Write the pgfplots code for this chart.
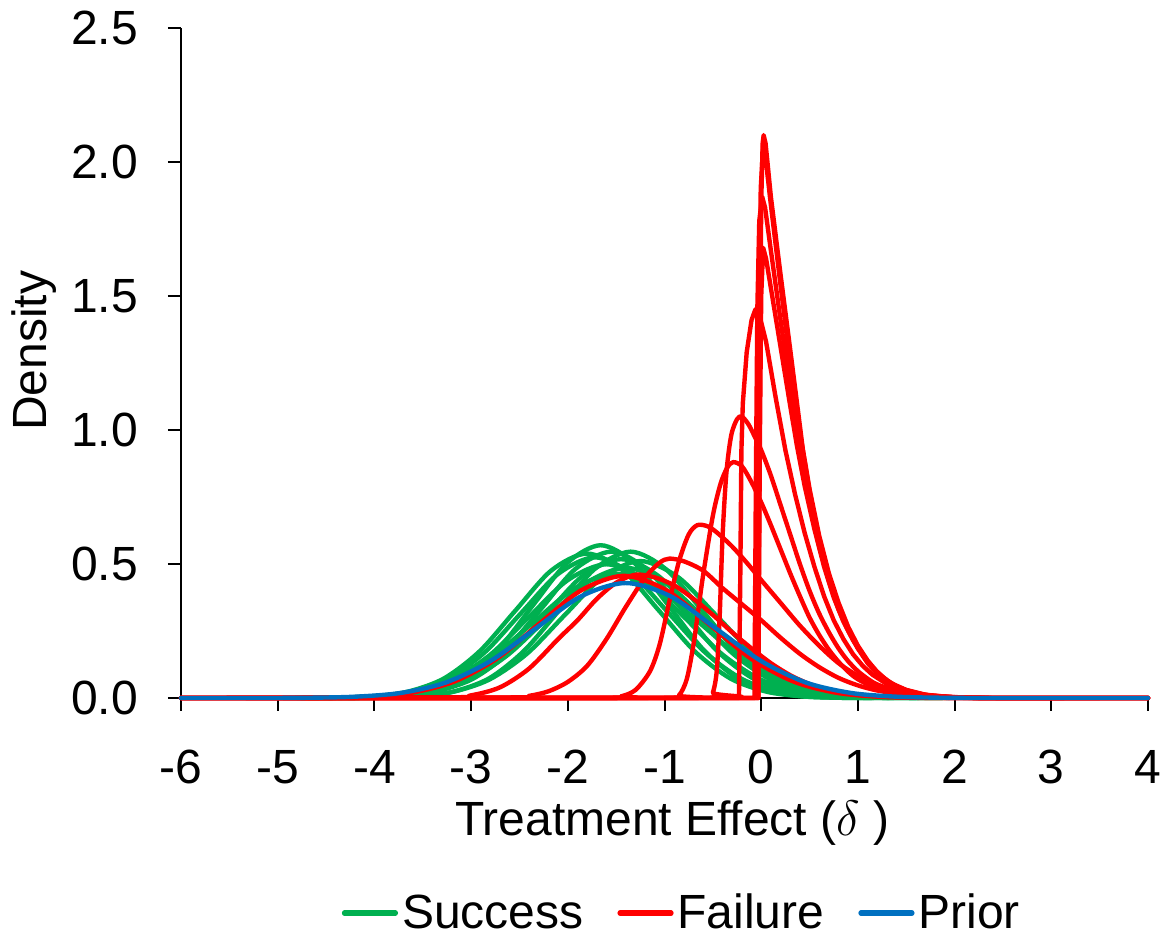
\documentclass[border=0pt]{standalone}
\usepackage{fontspec}
\setmainfont{Liberation Sans}
\usepackage{pgfplots}
\pgfplotsset{compat=1.18}
\definecolor{sgreen}{RGB}{0,176,80}
\definecolor{fred}{RGB}{255,0,0}
\definecolor{pblue}{RGB}{0,112,192}
\newcommand\fsz{\fontsize{24}{28}\selectfont}
\begin{document}
\begin{tikzpicture}
\begin{axis}[
  scale only axis, width=483.5pt, height=335pt,
  xmin=-6, xmax=4, ymin=0, ymax=2.5,
  axis x line*=bottom, axis y line*=left,
  axis line style={line width=1.2pt, black},
  xtick={-6,-5,-4,-3,-2,-1,0,1,2,3,4},
  xticklabels={-6,-5,-4,-3,-2,-1,0,1,2,3,4},
  ytick={0,0.5,1,1.5,2,2.5},
  yticklabels={0.0,0.5,1.0,1.5,2.0,2.5},
  tick align=outside, major tick length=6.5pt,
  tick style={line width=1pt, black},
  tick label style={font=\fsz},
  yticklabel style={xshift=-11.5pt},
  xticklabel style={yshift=-16pt},
  xlabel={Treatment Effect ($\delta$ )}, ylabel={Density},
  label style={font=\fsz},
  xlabel style={at={(axis description cs:0.508,-0.187)}, anchor=center},
  ylabel style={at={(axis description cs:-0.152,0.518)}, anchor=center},
  clip=false,
  legend style={draw=none, fill=none, font=\fsz, legend columns=3,
    at={(0.519,-0.321)}, anchor=center,
    /tikz/every even column/.append style={column sep=15pt}},
  legend image code/.code={\draw[#1] (0pt,0pt) -- (25.5pt,0pt);},
  every axis plot/.append style={line width=2.2pt, line cap=round, line join=round},
]
\addlegendimage{sgreen, line width=2.6pt}\addlegendentry{Success}
\addlegendimage{fred, line width=2.6pt}\addlegendentry{Failure}
\addlegendimage{pblue, line width=2.6pt}\addlegendentry{Prior}

% ---------------- Success (green) ----------------
\addplot[sgreen, smooth, forget plot] coordinates {(-4.46,0.000)(-4.11,0.001)(-3.76,0.006)(-3.41,0.025)(-3.06,0.077)(-2.71,0.185)(-2.36,0.346)(-2.01,0.503)(-1.66,0.570)(-1.31,0.503)(-0.96,0.346)(-0.61,0.185)(-0.26,0.077)(0.09,0.025)(0.44,0.006)(0.79,0.001)(1.14,0.000)};
\addplot[sgreen, smooth, forget plot] coordinates {(-4.76,0.000)(-4.39,0.001)(-4.02,0.006)(-3.65,0.024)(-3.28,0.073)(-2.91,0.175)(-2.54,0.327)(-2.17,0.476)(-1.80,0.539)(-1.43,0.476)(-1.06,0.327)(-0.69,0.175)(-0.32,0.073)(0.05,0.024)(0.42,0.006)(0.79,0.001)(1.16,0.000)};
\addplot[sgreen, smooth, forget plot] coordinates {(-4.76,0.000)(-4.38,0.001)(-4.00,0.006)(-3.62,0.023)(-3.24,0.071)(-2.86,0.170)(-2.48,0.318)(-2.10,0.463)(-1.72,0.525)(-1.34,0.463)(-0.96,0.318)(-0.58,0.170)(-0.20,0.071)(0.18,0.023)(0.56,0.006)(0.94,0.001)(1.32,0.000)};
\addplot[sgreen, smooth, forget plot] coordinates {(-4.47,0.000)(-4.11,0.001)(-3.74,0.006)(-3.38,0.024)(-3.01,0.074)(-2.65,0.177)(-2.28,0.331)(-1.92,0.482)(-1.55,0.546)(-1.19,0.482)(-0.82,0.331)(-0.46,0.177)(-0.09,0.074)(0.28,0.024)(0.64,0.006)(1.01,0.001)(1.37,0.000)};
\addplot[sgreen, smooth, forget plot] coordinates {(-4.27,0.000)(-3.91,0.001)(-3.54,0.006)(-3.18,0.024)(-2.81,0.074)(-2.45,0.177)(-2.08,0.331)(-1.72,0.482)(-1.35,0.546)(-0.99,0.482)(-0.62,0.331)(-0.26,0.177)(0.11,0.074)(0.48,0.024)(0.84,0.006)(1.21,0.001)(1.57,0.000)};
\addplot[sgreen, smooth, forget plot] coordinates {(-4.53,0.000)(-4.15,0.001)(-3.76,0.006)(-3.38,0.023)(-2.99,0.070)(-2.61,0.168)(-2.22,0.314)(-1.84,0.457)(-1.45,0.518)(-1.07,0.457)(-0.68,0.314)(-0.30,0.168)(0.09,0.070)(0.48,0.023)(0.86,0.006)(1.25,0.001)(1.63,0.000)};
\addplot[sgreen, smooth, forget plot] coordinates {(-4.37,0.000)(-3.98,0.001)(-3.59,0.006)(-3.20,0.022)(-2.81,0.069)(-2.42,0.166)(-2.03,0.310)(-1.64,0.451)(-1.25,0.511)(-0.86,0.451)(-0.47,0.310)(-0.08,0.166)(0.31,0.069)(0.70,0.022)(1.09,0.006)(1.48,0.001)(1.87,0.000)};
\addplot[sgreen, smooth, forget plot] coordinates {(-4.80,0.000)(-4.40,0.001)(-4.00,0.006)(-3.60,0.022)(-3.20,0.068)(-2.80,0.162)(-2.40,0.303)(-2.00,0.440)(-1.60,0.499)(-1.20,0.440)(-0.80,0.303)(-0.40,0.162)(0.00,0.068)(0.40,0.022)(0.80,0.006)(1.20,0.001)(1.60,0.000)};
\addplot[sgreen, smooth, forget plot] coordinates {(-4.68,0.000)(-4.27,0.001)(-3.86,0.005)(-3.45,0.021)(-3.04,0.066)(-2.63,0.158)(-2.22,0.295)(-1.81,0.429)(-1.40,0.486)(-0.99,0.429)(-0.58,0.295)(-0.17,0.158)(0.24,0.066)(0.65,0.021)(1.06,0.005)(1.47,0.001)(1.88,0.000)};
\addplot[sgreen, smooth, forget plot] coordinates {(-4.94,0.000)(-4.51,0.001)(-4.08,0.005)(-3.65,0.020)(-3.22,0.063)(-2.79,0.151)(-2.36,0.281)(-1.93,0.409)(-1.50,0.464)(-1.07,0.409)(-0.64,0.281)(-0.21,0.151)(0.22,0.063)(0.65,0.020)(1.08,0.005)(1.51,0.001)(1.94,0.000)};

% ---------------- Failure (red) ----------------
\addplot[fred, smooth, forget plot] coordinates {(-6,0)(-4.92,0.000)(-4.48,0.001)(-4.045,0.005)(-3.61,0.020)(-3.17,0.062)(-2.73,0.148)(-2.295,0.277)(-1.86,0.402)(-1.42,0.456)(-0.98,0.402)(-0.545,0.277)(-0.11,0.148)(0.33,0.062)(0.77,0.020)(1.205,0.005)(1.64,0.001)(2.08,0.000)(4,0)};
\addplot[fred, smooth, forget plot] coordinates {(-6,0)(-3.3,0.002)(-3.0,0.01)(-2.7,0.04)(-2.4,0.11)(-2.1,0.22)(-1.9,0.29)(-1.7,0.37)(-1.5,0.43)(-1.3,0.46)(-1.1,0.45)(-0.9,0.42)(-0.7,0.37)(-0.5,0.31)(-0.3,0.245)(-0.1,0.185)(0.1,0.13)(0.3,0.085)(0.5,0.052)(0.7,0.03)(1.0,0.012)(1.4,0.003)(1.9,0)(4,0)};
\addplot[fred, smooth, forget plot] coordinates {(-6,0)(-2.6,0.002)(-2.4,0.008)(-2.2,0.025)(-2.0,0.06)(-1.8,0.12)(-1.6,0.22)(-1.4,0.34)(-1.2,0.45)(-1.05,0.505)(-0.95,0.52)(-0.8,0.51)(-0.6,0.475)(-0.4,0.41)(-0.2,0.35)(0.0,0.29)(0.2,0.225)(0.4,0.165)(0.6,0.115)(0.8,0.075)(1.0,0.047)(1.2,0.028)(1.5,0.012)(1.9,0.003)(2.4,0)(4,0)};
\addplot[fred, smooth, forget plot] coordinates {(-6,0)(-1.6,0.001)(-1.45,0.006)(-1.3,0.03)(-1.15,0.10)(-1.05,0.2)(-0.95,0.36)(-0.85,0.51)(-0.75,0.61)(-0.66,0.645)(-0.55,0.64)(-0.45,0.615)(-0.3,0.565)(-0.15,0.505)(0.0,0.44)(0.2,0.355)(0.4,0.27)(0.6,0.195)(0.8,0.13)(1.0,0.083)(1.2,0.05)(1.4,0.028)(1.7,0.01)(2.1,0.002)(2.5,0)(4,0)};
\addplot[fred, smooth, forget plot] coordinates {(-6,0)(-0.95,0.001)(-0.85,0.01)(-0.77,0.07)(-0.7,0.2)(-0.65,0.33)(-0.6,0.46)(-0.5,0.68)(-0.42,0.8)(-0.35,0.86)(-0.29,0.88)(-0.2,0.865)(-0.1,0.805)(0.0,0.73)(0.1,0.645)(0.2,0.555)(0.3,0.465)(0.4,0.38)(0.5,0.30)(0.6,0.235)(0.7,0.18)(0.8,0.135)(0.9,0.098)(1.0,0.07)(1.2,0.034)(1.4,0.015)(1.7,0.004)(2.1,0)(4,0)};
\addplot[fred, smooth, forget plot] coordinates {(-6,0)(-0.55,0.001)(-0.5,0.02)(-0.46,0.1)(-0.43,0.3)(-0.4,0.6)(-0.36,0.84)(-0.31,0.98)(-0.25,1.04)(-0.2,1.05)(-0.13,1.02)(-0.06,0.97)(0.0,0.925)(0.1,0.83)(0.2,0.72)(0.3,0.61)(0.4,0.50)(0.5,0.40)(0.6,0.315)(0.7,0.245)(0.8,0.185)(0.9,0.137)(1.0,0.1)(1.1,0.072)(1.2,0.05)(1.4,0.022)(1.7,0.006)(2.1,0)(4,0)};
\addplot[fred, sharp plot, forget plot] coordinates {(-6,0)(-0.23,0)(-0.215,0.5)(-0.205,0.92)(-0.19,1.10)(-0.15,1.29)(-0.1,1.41)(-0.06,1.45)(-0.02,1.43)(0.05,1.33)(0.15,1.12)(0.25,0.925)(0.35,0.76)(0.45,0.615)(0.55,0.49)(0.65,0.38)(0.75,0.29)(0.85,0.22)(0.95,0.163)(1.05,0.12)(1.15,0.087)(1.3,0.052)(1.45,0.03)(1.6,0.017)(1.8,0.007)(2.1,0.001)(2.4,0)(4,0)};
\addplot[fred, sharp plot, forget plot] coordinates {(-6,0)(-0.03,0)(-0.015,0.9)(0.0,1.5)(0.02,1.68)(0.05,1.64)(0.1,1.53)(0.2,1.31)(0.3,1.09)(0.37,0.94)(0.45,0.79)(0.55,0.63)(0.65,0.49)(0.75,0.375)(0.85,0.285)(0.95,0.215)(1.05,0.16)(1.15,0.115)(1.25,0.08)(1.35,0.054)(1.5,0.03)(1.7,0.012)(2.0,0.002)(2.3,0)(4,0)};
\addplot[fred, sharp plot, forget plot] coordinates {(-6,0)(-0.07,0)(-0.055,0.8)(-0.04,1.45)(-0.02,1.78)(0.01,1.87)(0.04,1.83)(0.1,1.67)(0.2,1.41)(0.3,1.16)(0.4,0.93)(0.5,0.73)(0.6,0.565)(0.7,0.435)(0.8,0.33)(0.9,0.25)(1.0,0.185)(1.1,0.135)(1.2,0.095)(1.3,0.064)(1.4,0.042)(1.6,0.017)(1.8,0.006)(2.1,0.001)(2.4,0)(4,0)};
\addplot[fred, sharp plot, forget plot] coordinates {(-6,0)(-0.035,0)(-0.02,1.2)(-0.005,1.9)(0.02,2.06)(0.05,2.0)(0.1,1.84)(0.2,1.54)(0.3,1.25)(0.4,0.99)(0.5,0.77)(0.6,0.59)(0.7,0.45)(0.8,0.34)(0.9,0.255)(1.0,0.185)(1.1,0.13)(1.2,0.09)(1.3,0.06)(1.4,0.039)(1.5,0.025)(1.7,0.009)(2.0,0.001)(2.3,0)(4,0)};
\addplot[fred, sharp plot, forget plot] coordinates {(-6,0)(-0.03,0)(-0.015,1.1)(0.0,1.85)(0.015,2.07)(0.025,2.10)(0.045,2.07)(0.1,1.87)(0.2,1.58)(0.3,1.30)(0.43,0.93)(0.5,0.78)(0.6,0.605)(0.7,0.465)(0.8,0.355)(0.9,0.265)(1.0,0.195)(1.1,0.14)(1.2,0.097)(1.3,0.066)(1.4,0.044)(1.5,0.029)(1.7,0.011)(2.0,0.002)(2.3,0)(4,0)};

% ---------------- Prior (blue) ----------------
\addplot[pblue, smooth, forget plot] coordinates {(-6,0)(-5.12,0.000)(-4.655,0.001)(-4.19,0.005)(-3.725,0.019)(-3.26,0.058)(-2.795,0.139)(-2.33,0.260)(-1.865,0.379)(-1.40,0.429)(-0.935,0.379)(-0.47,0.260)(-0.005,0.139)(0.46,0.058)(0.925,0.019)(1.39,0.005)(1.855,0.001)(2.32,0.000)(4,0)};
\end{axis}
\pgfresetboundingbox
\path[use as bounding box] ([xshift=-90.5pt, yshift=-121pt]current axis.south west) rectangle ([xshift=7.5pt, yshift=14pt]current axis.north east);
\end{tikzpicture}
\end{document}
